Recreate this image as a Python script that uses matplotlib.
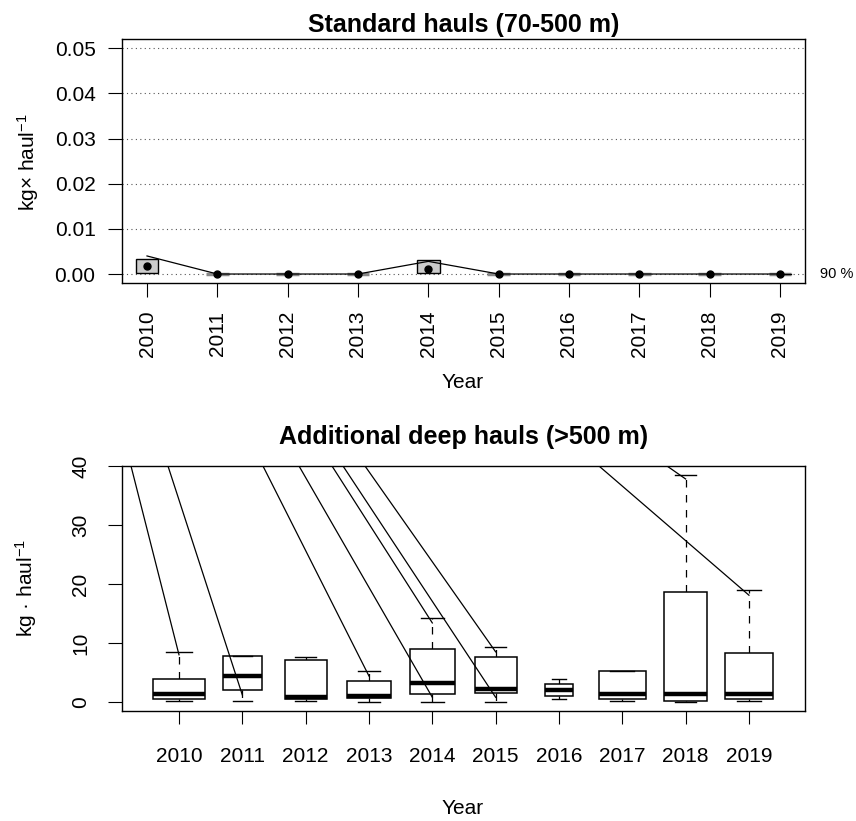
import matplotlib
matplotlib.use("Agg")
import matplotlib.pyplot as plt
from matplotlib.patches import Rectangle

plt.rcParams['font.family'] = ['Liberation Sans', 'DejaVu Sans']
plt.rcParams['mathtext.fontset'] = 'custom'
plt.rcParams['mathtext.rm'] = 'Liberation Sans'
plt.rcParams['mathtext.it'] = 'Liberation Sans:italic'

years = [2010, 2011, 2012, 2013, 2014, 2015, 2016, 2017, 2018, 2019]

# standard hauls (70-500 m): box limits, median, 90 % quantile
std_lo = [0.0002, 0, 0, 0, 0.0002, 0, 0, 0, 0, 0]
std_hi = [0.0033, 0, 0, 0, 0.0031, 0, 0, 0, 0, 0]
std_med = [0.0018, 0, 0, 0, 0.0011, 0, 0, 0, 0, 0]
std_q90 = [0.0040, 0, 0, 0, 0.0028, 0, 0, 0, 0, 0]

# additional deep hauls (>500 m): box statistics
deep_wlo = [0.2, 0.2, 0.2, 0.0, 0.0, 0.05, 0.45, 0.2, 0.0, 0.2]
deep_q1 = [0.45, 2.0, 0.45, 0.6, 1.3, 1.5, 1.1, 0.45, 0.2, 0.45]
deep_med = [1.3, 4.4, 0.8, 1.1, 3.3, 2.15, 2.0, 1.3, 1.3, 1.3]
deep_q3 = [3.9, 7.8, 7.2, 3.5, 8.9, 7.6, 3.0, 5.25, 18.7, 8.3]
deep_whi = [8.4, 7.8, 7.7, 5.25, 14.2, 9.4, 3.9, 5.25, 38.5, 19.0]
box_widths = [0.82, 0.61, 0.66, 0.70, 0.71, 0.66, 0.45, 0.75, 0.67, 0.75]

# segments that run in from above the top of the deep-haul panel
seg_top_x = [0.242, 0.826, 2.326, 2.895, 3.416, 3.590, 3.937, 7.632, 8.706]
seg_end_i = [1, 2, 4, 5, 5, 6, 6, 10, 9]
seg_end_y = [8.0, 1.2, 4.4, 0.8, 13.4, 0.8, 8.5, 18.1, 37.8]

W, H = 856, 821
fig = plt.figure(figsize=(W / 100, H / 100), dpi=100)
ax1 = fig.add_axes([122 / W, 1 - 283 / H, 683 / W, 244 / H])
ax2 = fig.add_axes([122 / W, 1 - 711 / H, 683 / W, 245 / H])

pos = list(range(1, len(years) + 1))

# ---- top panel ----
for g in [0, 0.01, 0.02, 0.03, 0.04, 0.05]:
    ax1.axhline(g, color='#555555', lw=0.8, ls=(0, (1, 3)), zorder=1)

bw = 0.32
for p, lo, hi in zip(pos, std_lo, std_hi):
    if hi - lo > 0:
        ax1.add_patch(Rectangle((p - bw / 2, lo), bw, hi - lo, facecolor='#cccccc',
                                edgecolor='black', lw=1.0, zorder=3))
    else:
        ax1.plot([p - bw / 2, p + bw / 2], [lo, lo], color='#888888', lw=2.5,
                 solid_capstyle='butt', zorder=2)
ax1.plot(pos, std_q90, color='black', lw=0.9, zorder=4)
ax1.plot([pos[-1], pos[-1] + bw / 2], [0, 0], color='black', lw=0.9, zorder=4)
ax1.plot(pos, std_med, 'o', color='black', ms=5, zorder=5)

ax1.set_xlim(0.6445, 10.356)
ax1.set_ylim(-0.00199, 0.05206)
ax1.set_xticks(pos)
ax1.set_xticklabels([str(y) for y in years], rotation=90)
ax1.set_yticks([0, 0.01, 0.02, 0.03, 0.04, 0.05])
ax1.set_yticklabels(['0.00', '0.01', '0.02', '0.03', '0.04', '0.05'])
ax1.tick_params(axis='both', direction='out', length=10, width=0.8, labelsize=15)
ax1.tick_params(axis='y', pad=9)
ax1.tick_params(axis='x', pad=10)
ax1.text(1.022, 0, '90 %', transform=ax1.get_yaxis_transform(), ha='left',
         va='center', fontsize=10.5)
ax1.set_title('Standard hauls (70-500 m)', fontsize=18, fontweight='bold', pad=5)

# ---- bottom panel ----
for p, w, wl, q1, md, q3, wh in zip(pos, box_widths, deep_wlo, deep_q1, deep_med,
                                    deep_q3, deep_whi):
    ax2.add_patch(Rectangle((p - w / 2, q1), w, q3 - q1, facecolor='white',
                            edgecolor='black', lw=1.1, zorder=3))
    ax2.plot([p - w / 2, p + w / 2], [md, md], color='black', lw=3.2,
             solid_capstyle='butt', zorder=4)
    ax2.plot([p, p], [q3, wh], color='black', lw=0.9, ls=(0, (6, 6)), zorder=2)
    ax2.plot([p, p], [q1, wl], color='black', lw=0.9, ls=(0, (6, 6)), zorder=2)
    ax2.plot([p - w / 4, p + w / 4], [wh, wh], color='black', lw=1.0, zorder=3)
    ax2.plot([p - w / 4, p + w / 4], [wl, wl], color='black', lw=1.0, zorder=3)

for xt, i, ye in zip(seg_top_x, seg_end_i, seg_end_y):
    ax2.plot([xt, i], [40, ye], color='black', lw=0.9, zorder=5)

ax2.set_xlim(0.100, 10.885)
ax2.set_ylim(-1.525, 40)
ax2.set_xticks(pos)
ax2.set_xticklabels([str(y) for y in years])
ax2.set_yticks([0, 10, 20, 30, 40])
ax2.tick_params(axis='both', direction='out', width=0.8, labelsize=15)
ax2.tick_params(axis='x', length=9, pad=17)
ax2.tick_params(axis='y', length=10, pad=13, labelrotation=90)
for lab in ax2.get_yticklabels():
    lab.set_va('center')
ax2.set_title('Additional deep hauls (>500 m)', fontsize=18, fontweight='bold', pad=16)

for ax in (ax1, ax2):
    for s in ax.spines.values():
        s.set_linewidth(1.0)

fig.text(463 / W, 1 - 382 / H, 'Year', ha='center', va='center', fontsize=15)
fig.text(463 / W, 1 - 808 / H, 'Year', ha='center', va='center', fontsize=15)
fig.text(28 / W, 1 - 162 / H, 'kg× haul$^{-1}$', ha='center', va='center',
         rotation=90, fontsize=15)
fig.text(26 / W, 1 - 588 / H, 'kg · haul$^{-1}$', ha='center', va='center',
         rotation=90, fontsize=15)

fig.savefig('out.png', dpi=100)
